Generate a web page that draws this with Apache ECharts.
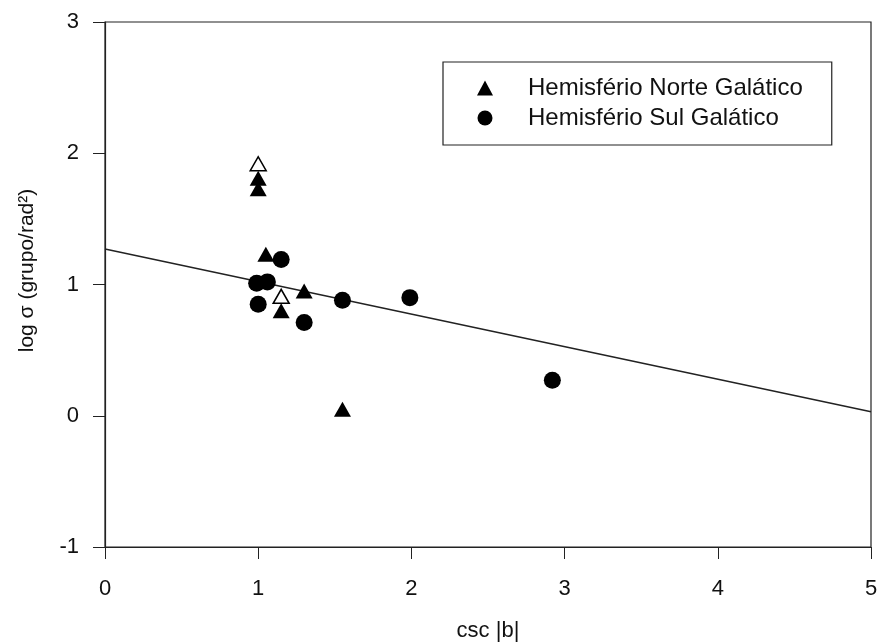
<!DOCTYPE html>
<html>
<head>
<meta charset="utf-8">
<script src="https://cdn.jsdelivr.net/npm/echarts@6/dist/echarts.min.js"></script>
<style>
  html, body { margin: 0; padding: 0; background: #fff; }
  #chart { width: 880px; height: 643px; }
</style>
</head>
<body>
<div id="chart"></div>
<script>
// data: [csc|b|, log sigma]
const norteFilled = [
  [1.00, 1.81], [1.00, 1.73], [1.05, 1.23], [1.30, 0.95],
  [1.15, 0.80], [1.55, 0.05]
];
const norteOpen = [
  [1.00, 1.92], [1.15, 0.91]
];
const sul = [
  [1.15, 1.19], [0.99, 1.01], [1.06, 1.02], [1.00, 0.85],
  [1.30, 0.71], [1.55, 0.88], [1.99, 0.90], [2.92, 0.27]
];
const fitLine = [[0, 1.27], [5, 0.03]];

const seriesNames = ['Hemisfério Norte Galático', 'Hemisfério Sul Galático'];
const font = 'Liberation Sans, Arial, sans-serif';

const chart = echarts.init(document.getElementById('chart'));

let option = {
  backgroundColor: '#fff',
  animation: false,
  textStyle: { fontFamily: font, color: '#111' },
  grid: {
    left: 105, right: 9, top: 22, bottom: 96,
    outerBoundsMode: 'none',
    show: true, borderColor: '#222', borderWidth: 1.2
  },
  legend: {
    data: [
      { name: seriesNames[0], icon: 'triangle' },
      { name: seriesNames[1], icon: 'circle' }
    ],
    orient: 'vertical',
    left: 443, top: 62,
    padding: [14, 29, 15, 34],
    itemWidth: 16, itemHeight: 15, itemGap: 6,
    borderColor: '#222', borderWidth: 1.2,
    backgroundColor: '#fff',
    textStyle: { fontSize: 24, fontFamily: font, color: '#111', padding: [0, 0, 0, 30] }
  },
  xAxis: {
    type: 'value', min: 0, max: 5, interval: 1,
    name: 'csc |b|', nameLocation: 'middle', nameGap: 73,
    nameTextStyle: { fontSize: 22, color: '#111' },
    axisLine: { show: true, onZero: false, lineStyle: { color: '#222', width: 1.2 } },
    axisTick: { show: true, length: 12, lineStyle: { color: '#222' } },
    axisLabel: { fontSize: 22, color: '#111', margin: 31 },
    splitLine: { show: false }
  },
  yAxis: {
    type: 'value', min: -1, max: 3, interval: 1,
    name: 'log σ (grupo/rad²)', nameLocation: 'middle', nameGap: 67,
    nameTextStyle: { fontSize: 21, color: '#111', padding: [0, 0, 0, 28] },
    axisLine: { show: true, onZero: false, lineStyle: { color: '#222', width: 1.2 } },
    axisTick: { show: true, length: 12, lineStyle: { color: '#222' } },
    axisLabel: { fontSize: 22, color: '#111', margin: 26 },
    splitLine: { show: false }
  },
  series: [
    {
      name: 'ajuste',
      type: 'line',
      data: fitLine,
      showSymbol: false,
      silent: true,
      lineStyle: { color: '#222', width: 1.5 },
      z: 1
    },
    {
      name: seriesNames[0],
      type: 'scatter',
      symbol: 'triangle',
      symbolSize: [17, 15],
      data: norteFilled,
      itemStyle: { color: '#000', opacity: 1 },
      z: 3
    },
    {
      name: 'norte aberto',
      type: 'scatter',
      symbol: 'triangle',
      symbolSize: [16, 14],
      data: norteOpen,
      itemStyle: { color: '#fff', borderColor: '#000', borderWidth: 1.5, opacity: 1 },
      z: 4
    },
    {
      name: seriesNames[1],
      type: 'scatter',
      symbol: 'circle',
      symbolSize: 17,
      data: sul,
      itemStyle: { color: '#000', opacity: 1 },
      z: 3
    }
  ]
};

chart.setOption(option);
</script>
</body>
</html>
